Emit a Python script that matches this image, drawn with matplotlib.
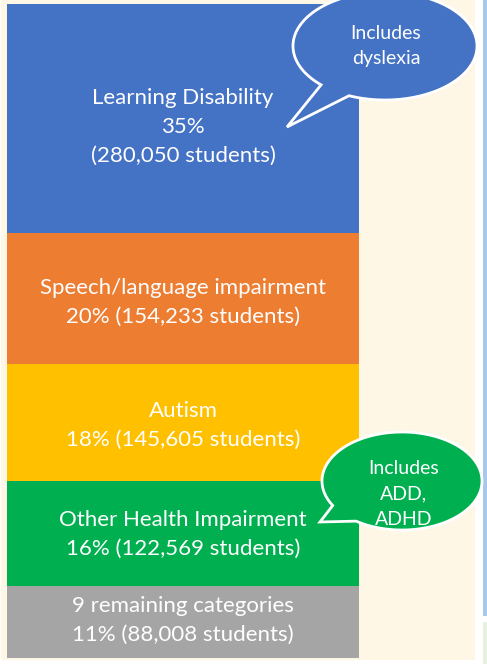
import numpy as np
import matplotlib
matplotlib.use("Agg")
import matplotlib.pyplot as plt
from matplotlib.patches import Rectangle, PathPatch
from matplotlib.path import Path

# ---- data ----
categories = ["Learning Disability", "Speech/language impairment", "Autism",
              "Other Health Impairment", "9 remaining categories"]
percents = [35, 20, 18, 16, 11]
students = [280050, 154233, 145605, 122569, 88008]
colors = ["#4472C4", "#ED7D31", "#FFC000", "#00B050", "#A5A5A5"]
bubble_texts = ["Includes\ndyslexia", "Includes\nADD,\nADHD"]

W, H = 487, 664
fig = plt.figure(figsize=(W / 100, H / 100), dpi=100)
fig.patch.set_facecolor("white")

def px_rect(x0, y0, x1, y1):
    return [x0 / W, 1 - y1 / H, (x1 - x0) / W, (y1 - y0) / H]

# background overlay axes (pixel coords)
bg = fig.add_axes([0, 0, 1, 1], zorder=0)
bg.set_xlim(0, W); bg.set_ylim(H, 0); bg.axis("off")
bg.add_patch(Rectangle((1, 0), 474, 660, facecolor="#FFF7E6", edgecolor="none"))
bg.add_patch(Rectangle((483, 0), 4, 616, facecolor="#A9C7EA", edgecolor="none"))
bg.add_patch(Rectangle((483, 622), 4, 42, facecolor="#E5F1DB", edgecolor="none"))

# bar axes
ax = fig.add_axes(px_rect(7, 4, 359, 658), zorder=1)
ax.set_xlim(-0.5, 0.5)
total = sum(percents)
ax.set_ylim(total, 0)
ax.axis("off")
bottoms = np.concatenate([[0], np.cumsum(percents)[:-1]])
ax.bar([0] * len(percents), percents, bottom=bottoms, width=1.0,
       color=colors, edgecolor="none")

font = ["Lato", "DejaVu Sans"]
fs = 16
labels = [
    f"{categories[0]}\n{percents[0]}%\n({students[0]:,} students)",
    f"{categories[1]}\n{percents[1]}% ({students[1]:,} students)",
    f"{categories[2]}\n{percents[2]}% ({students[2]:,} students)",
    f"{categories[3]}\n{percents[3]}% ({students[3]:,} students)",
    f"{categories[4]}\n{percents[4]}% ({students[4]:,} students)",
]
offsets = [1.3, 0.6, 0.4, 0.1, -0.2]
for b, p, lab, off in zip(bottoms, percents, labels, offsets):
    ax.text(0, b + p / 2 + off, lab, ha="center", va="center", color="white",
            fontsize=fs, family=font, linespacing=1.57)

# bubbles overlay
ov = fig.add_axes([0, 0, 1, 1], zorder=2)
ov.set_xlim(0, W); ov.set_ylim(H, 0); ov.axis("off")
ov.patch.set_alpha(0)

def bubble(cx, cy, a, b, ang1, ang2, tip, color):
    ts = np.linspace(np.radians(ang1), np.radians(ang2 + 360), 200)
    pts = [(cx + a * np.cos(t), cy + b * np.sin(t)) for t in ts]
    pts.append(tip)
    pts.append(pts[0])
    codes = [Path.MOVETO] + [Path.LINETO] * (len(pts) - 2) + [Path.CLOSEPOLY]
    ov.add_patch(PathPatch(Path(pts, codes), facecolor=color,
                           edgecolor="white", linewidth=2, joinstyle="miter"))

bubble(385, 46, 92, 54, 134, 113, (287, 127), colors[0])
bubble(402, 481, 80, 49, 150, 125, (320, 522), colors[3])

ov.text(386, 46, bubble_texts[0], ha="center", va="center", color="white",
        fontsize=14, family=font, linespacing=1.62)
ov.text(404, 494, bubble_texts[1], ha="center", va="center", color="white",
        fontsize=14, family=font, linespacing=1.6)

fig.savefig("out.png", dpi=100)
